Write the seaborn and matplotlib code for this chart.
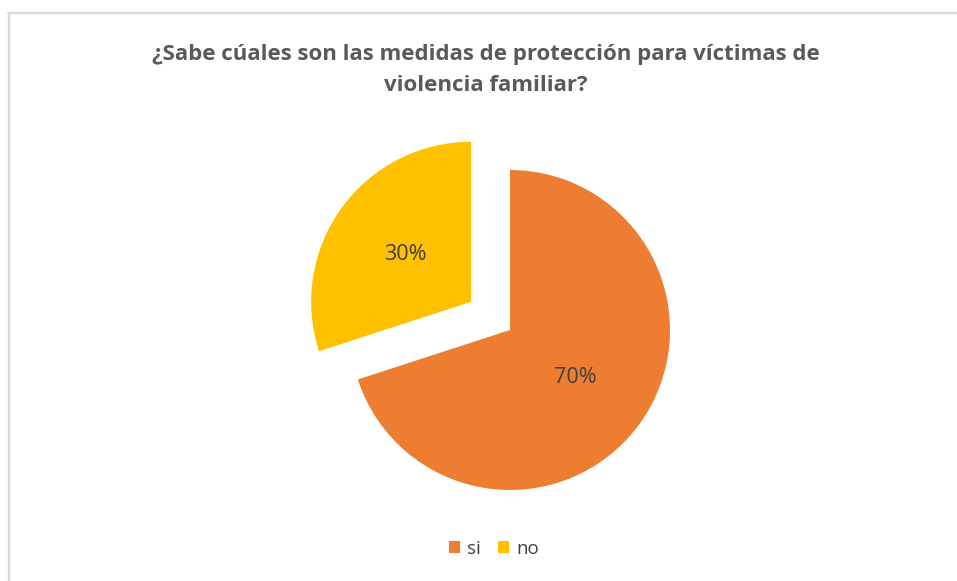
import matplotlib
matplotlib.use("Agg")
import matplotlib.pyplot as plt
from matplotlib.lines import Line2D
import seaborn as sns

title = "¿Sabe cúales son las medidas de protección para víctimas de\nviolencia familiar?"
categories = ["si", "no"]
values = [70, 30]
colors = ["#ED7D31", "#FFC000"]
explode = [0.0, 48.0]

sns.set_theme(style="white")
plt.rcParams['font.family'] = ['Open Sans', 'DejaVu Sans']

W, H = 957, 581
fig = plt.figure(figsize=(W / 100, H / 100), dpi=100)
ax = fig.add_axes([0, 0, 1, 1])

wedges, texts, autotexts = ax.pie(
    values, colors=colors, explode=explode, startangle=90, counterclock=False,
    center=(510, H - 330), radius=160, autopct="%1.0f%%", pctdistance=0.505,
    textprops=dict(color="#404040", fontsize=15.5),
    wedgeprops=dict(linewidth=0),
)
ax.set_xlim(0, W)
ax.set_ylim(0, H)
ax.set_aspect("equal")
ax.axis("off")

fig.text(486 / W, 1 - 70 / H, title, ha="center", va="center", fontsize=16,
         fontweight="bold", color="#595959", linespacing=1.6)

leg = fig.legend(wedges, categories, loc="center", bbox_to_anchor=(494 / W, 1 - 549 / H),
                 ncol=2, frameon=False, fontsize=13.5, handlelength=0.6, handleheight=0.6,
                 handletextpad=0.4, columnspacing=0.9, labelcolor="#404040")

border = "#d9d9d9"
fig.add_artist(Line2D([8 / W, 1], [1 - 13 / H, 1 - 13 / H], transform=fig.transFigure,
                      color=border, lw=1.6))
fig.add_artist(Line2D([9 / W, 9 / W], [0, 1 - 13 / H], transform=fig.transFigure,
                      color=border, lw=1.6))

fig.savefig("out.png", dpi=100)
